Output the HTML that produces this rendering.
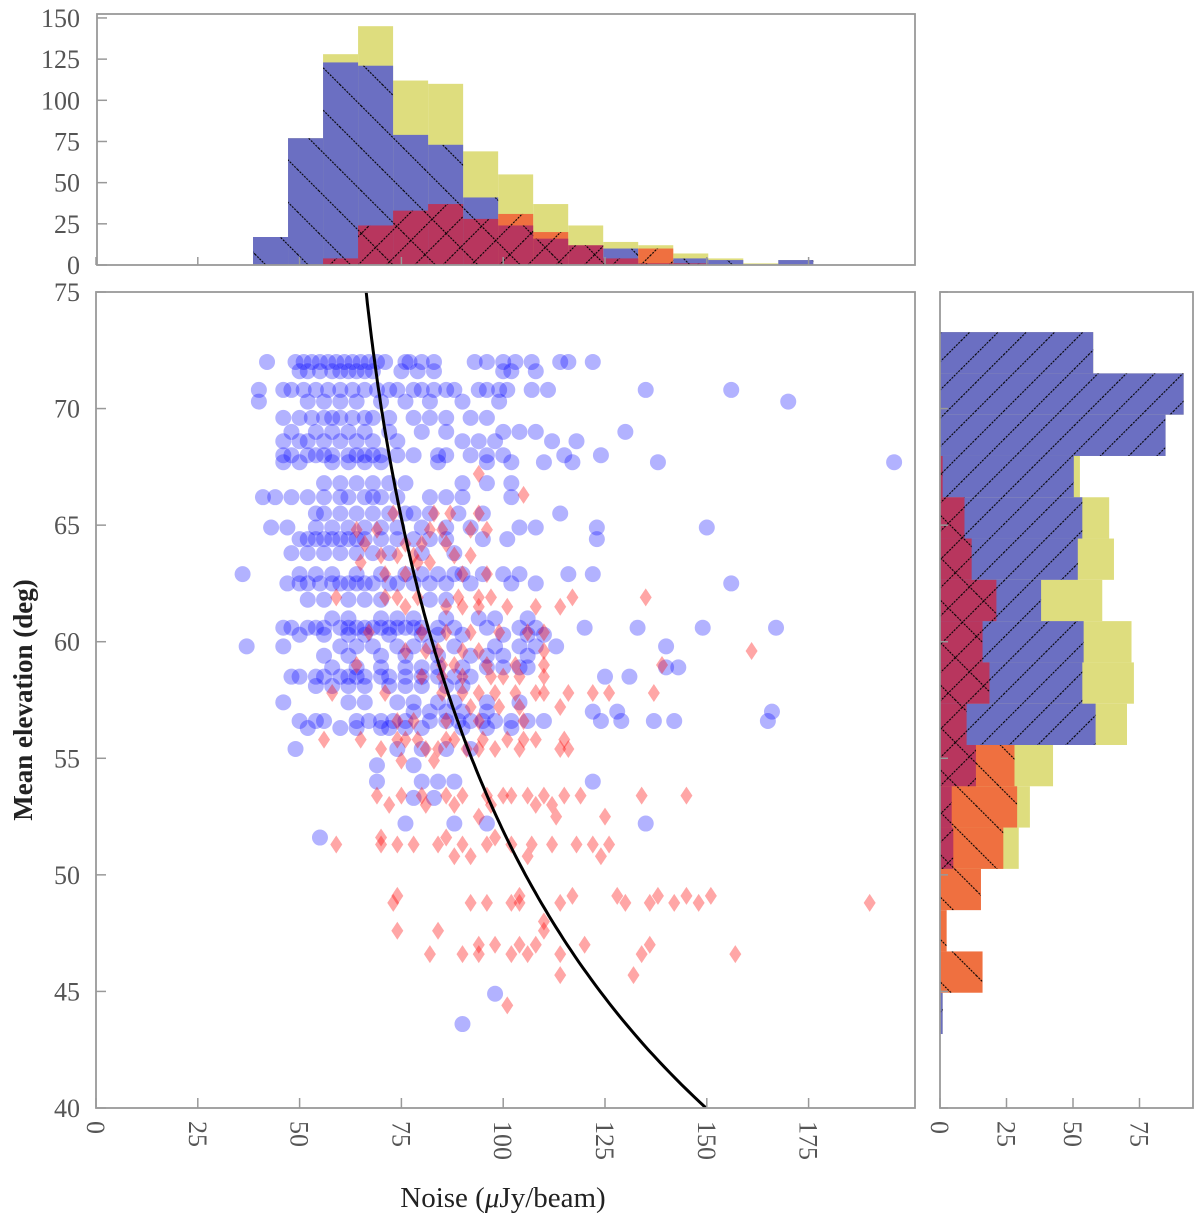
<!DOCTYPE html>
<html><head><meta charset="utf-8"><style>
html,body{margin:0;padding:0;background:#fff;}
svg{display:block;font-family:"Liberation Serif",serif;}
</style></head><body>
<svg id="chart" width="1200" height="1217" viewBox="0 0 1200 1217" xmlns="http://www.w3.org/2000/svg">
<defs>
<pattern id="hatchBack" patternUnits="userSpaceOnUse" width="30" height="30" patternTransform="rotate(-45)"><line x1="0" y1="0" x2="0" y2="30" stroke="#000" stroke-width="2.2" stroke-dasharray="2,1.2"/></pattern>
<pattern id="hatchFwd" patternUnits="userSpaceOnUse" width="20" height="20" patternTransform="rotate(45)"><line x1="0" y1="0" x2="0" y2="20" stroke="#000" stroke-width="2.2" stroke-dasharray="2,1.2"/></pattern>
<clipPath id="mainClip"><rect x="96" y="292" width="819" height="816"/></clipPath>
</defs>
<g id="topHist"></g>
<g id="rightHist"></g>
<g id="mainPlot"></g>
<g id="axes"></g>
<text x="503" y="1207" text-anchor="middle" font-size="29" fill="#222">Noise (<tspan font-style="italic">μ</tspan>Jy/beam)</text>
<text transform="translate(32,700) rotate(-90)" text-anchor="middle" font-size="27" font-weight="bold" fill="#222">Mean elevation (deg)</text>
</svg>
<script>
// ---------------- data ----------------
const topBinStart = 38.56;
const topBinWidth = 8.6;
const topYellow = [17,77,128,145,112,110,69,55,37,24,14,12,7,4,1,3];
const topBlue = [17,77,123,121,79,73,41,20,0,0,10,0,4,3,0,3];
const topOrange = [0,0,0,0,0,0,0,31,20,0,0,10,0,0,0,0];
const topCrimson = [0,0,4,24,33,37,28,24,16,12,4,1,1,0,0,0];
const topTicks = [0,25,50,75,100,125,150];

const rightBinStart = 73.28;
const rightBinWidth = 1.771;
const rightYellow = [57.6,91.6,84.8,52.6,63.6,65.4,61,72,72.9,70.3,42.5,33.8,29.6,0,0,0,1];
const rightBlue = [57.6,91.6,84.8,50.3,53.5,51.8,38,54,53.5,58.5,0,0,0,0,0,0,1];
const rightOrange = [0,0,0,0,0,0,0,0,0,0,28,29,23.8,15.4,2.5,16,0];
const rightCrimson = [0,0,0,1,9.2,11.9,21.2,16,18.6,10,13.5,4.4,5,0,0,0,0];
const rightTicks = [0,25,50,75];

const xTicks = [0,25,50,75,100,125,150,175];
const yTicks = [40,45,50,55,60,65,70,75];

const blueRows = [
[72.0,[42,49,51,53,55,57,59,61,63,65,67,69,71,76,77,80,83,93,96,100,103,107,114,116,122]],
[71.6,[50,52,55,58,60,62,64,66,68,75,79,83,100,102,108]],
[70.8,[40,46,48,51,54,57,60,63,66,69,72,74,78,80,83,86,88,94,96,99,101,107,111,135,156]],
[70.3,[40,52,56,60,64,70,76,82,90,99,170]],
[69.6,[46,50,53,56,58,60,63,66,68,72,78,82,86,92,96]],
[69.0,[48,54,58,62,66,72,80,86,100,104,108,130]],
[68.6,[46,50,52,56,60,64,68,74,90,94,98,112,118]],
[68.0,[46,48,52,54,56,58,62,64,66,68,70,74,78,84,86,92,96,100,115,124]],
[67.7,[46,50,58,62,66,70,84,96,102,110,117,138,196]],
[66.8,[56,60,64,68,72,76,90,96,102]],
[66.2,[41,44,48,52,56,60,62,66,68,70,74,82,86,90,102]],
[65.5,[54,56,60,64,68,72,76,78,82,89,95,114]],
[64.9,[43,47,54,58,62,66,70,74,80,86,92,104,108,123,150]],
[64.4,[50,52,54,56,58,60,62,64,66,70,74,78,82,86,95,101,123]],
[63.8,[48,52,56,60,64,68,72,80,88]],
[62.9,[36,50,54,58,64,70,76,80,84,88,90,95,100,104,116,122]],
[62.5,[47,50,52,55,58,60,62,64,66,68,72,74,78,82,86,92,102,108,156]],
[61.8,[52,56,62,66,70,82,86]],
[61.0,[58,62,70,74,78,86,94,98,106]],
[60.6,[46,48,52,54,56,60,62,64,66,68,70,72,74,76,78,80,84,88,96,104,108,120,133,149,167]],
[60.3,[50,56,62,66,72,80,84,90,100,106,110]],
[59.8,[37,46,60,64,68,74,78,82,88,98,104,108,113,140]],
[59.4,[56,62,70,76,84,92,96,100,106]],
[58.9,[58,64,70,76,80,84,90,96,100,104,106,140,143]],
[58.5,[48,50,54,56,60,62,64,66,70,72,76,80,84,88,92,125,131]],
[58.1,[54,58,62,66,72,76,80,86,90]],
[57.4,[46,62,66,74,78,84,88,96,104]],
[57.0,[78,82,86,90,96,122,128,166]],
[56.6,[50,54,56,64,67,70,73,76,82,86,89,92,95,98,102,106,110,124,129,137,142,165]],
[56.3,[52,60,64,70,72,76,80,90,96,102]],
[55.4,[49,74,80,86,92]],
[54.7,[69,78]],
[54.0,[69,80,84,88,122]],
[53.3,[78,83]],
[52.2,[76,88,96,135]],
[51.6,[55]],
[44.9,[98]],
[43.6,[90]]
];

const redRows = [
[67.2,[94]],
[66.3,[105]],
[65.5,[73,83,87,94]],
[64.8,[64,69,82,85,92,96]],
[64.2,[66,76,80,86]],
[63.7,[70,74,78,88,92]],
[63.4,[65,79,82]],
[62.9,[71,76,90,96]],
[61.9,[59,71,74,79,89,94,97,117,135]],
[61.5,[76,86,90,94,101,108,114]],
[60.4,[67,80,86,92,99,106,110]],
[59.6,[76,81,84,90,94,110,161]],
[59.0,[64,85,88,96,103,110,139]],
[58.5,[80,85,90,97,100,104,110]],
[57.8,[58,71,85,90,94,98,103,108,110,116,122,126,137]],
[57.2,[92,99,104,114]],
[56.6,[74,78,86,94,105]],
[55.8,[56,65,74,76,79,86,88,95,101,105,108,115]],
[55.4,[70,81,84,91,94,98,104,114,116]],
[54.9,[75,83]],
[53.4,[69,75,80,86,90,96,100,102,106,110,115,119,134,145]],
[53.0,[72,81,88,97,108,112]],
[52.5,[94,113,125]],
[51.6,[70,86,98]],
[51.3,[59,70,74,78,84,90,96,102,107,112,118,122,126]],
[50.8,[88,92,106,124]],
[49.1,[74,104,117,128,138,145,151]],
[48.8,[73,92,96,102,104,114,130,136,142,148,190]],
[48.0,[110]],
[47.6,[74,84,110]],
[47.0,[94,98,104,108,120,136]],
[46.6,[82,90,94,102,106,114,134,157]],
[45.7,[114,132]],
[44.4,[101]]
];
const curveK = 61.9;

// ---------------- scales ----------------
const NS="http://www.w3.org/2000/svg";
const X = v => 96 + v*4.072;
const Y = e => 292 + (75-e)*23.314;
const TY = c => 265 - c*1.647;
const RX = c => 940 + c*2.66;
function mk(tag, attrs, parent){const el=document.createElementNS(NS,tag);for(const k in attrs)el.setAttribute(k,attrs[k]);parent.appendChild(el);return el;}

const COL={yellow:"#dedd7e",blue:"#6b6fc2",orange:"#ef7040",crimson:"#b8365e"};

// ---------------- top histogram ----------------
const topG=document.getElementById('topHist');
function topSeries(vals,color,hatches,name){
  vals.forEach((v,i)=>{ if(v<=0) return;
    const x0=X(topBinStart+i*topBinWidth), x1=X(topBinStart+(i+1)*topBinWidth);
    const r=mk('rect',{x:x0,y:TY(v),width:x1-x0,height:TY(0)-TY(v),fill:color},topG);
    
    
    hatches.forEach(h=>{const hr=mk('rect',{x:x0,y:TY(v),width:x1-x0,height:TY(0)-TY(v),fill:'url(#'+h+')'},topG);
      
      });
  });
}
topSeries(topYellow,COL.yellow,[],'top-yellow');
topSeries(topBlue,COL.blue,['hatchBack'],'top-blue');
topSeries(topOrange,COL.orange,['hatchFwd'],'top-orange');
topSeries(topCrimson,COL.crimson,['hatchFwd','hatchBack'],'top-crimson');

// ---------------- right histogram ----------------
const rG=document.getElementById('rightHist');
function rightSeries(vals,color,hatches,name){
  vals.forEach((v,i)=>{ if(v<=0) return;
    const y0=Y(rightBinStart-i*rightBinWidth), y1=Y(rightBinStart-(i+1)*rightBinWidth);
    const r=mk('rect',{x:RX(0),y:y0,width:RX(v)-RX(0),height:y1-y0,fill:color},rG);
    
    
    hatches.forEach(h=>{const hr=mk('rect',{x:RX(0),y:y0,width:RX(v)-RX(0),height:y1-y0,fill:'url(#'+h+')'},rG);
      
      });
  });
}
rightSeries(rightYellow,COL.yellow,[],'right-yellow');
rightSeries(rightBlue,COL.blue,['hatchFwd'],'right-blue');
rightSeries(rightOrange,COL.orange,['hatchBack'],'right-orange');
rightSeries(rightCrimson,COL.crimson,['hatchFwd','hatchBack'],'right-crimson');

// ---------------- scatter ----------------
const mG=document.getElementById('mainPlot');
mG.setAttribute('clip-path','url(#mainClip)');
blueRows.forEach(([e,xs])=>xs.forEach(n=>{
  const c=mk('circle',{cx:X(n),cy:Y(e),r:8,fill:'rgba(0,0,255,0.3)'},mG);
  
  
}));
redRows.forEach(([e,xs])=>xs.forEach(n=>{
  const cx=X(n), cy=Y(e);
  const d=mk('polygon',{points:`${cx},${cy-9} ${cx+6},${cy} ${cx},${cy+9} ${cx-6},${cy}`,fill:'rgba(255,0,0,0.35)'},mG);
  
  
}));
let pts=[];
for(let e=75;e>=39.99;e-=0.25){const s=Math.sin(e*Math.PI/180);pts.push(X(curveK/(s*s)).toFixed(1)+','+Y(e).toFixed(1));}
const cl=mk('polyline',{points:pts.join(' '),fill:'none',stroke:'#000','stroke-width':3},mG);



// ---------------- axes ----------------
const aG=document.getElementById('axes');
const frame=(x,y,w,h,name)=>{const r=mk('rect',{x,y,width:w,height:h,fill:'none',stroke:'#999','stroke-width':1.8},aG);
  
  };
frame(97,14,818,251,'top-hist-frame');
frame(96,292,819,816,'main-frame');
frame(940,292,253,816,'right-hist-frame');
function label(x,y,txt,anchor,rot,name){
  const t=mk('text',{x,y,'text-anchor':anchor,'font-size':26,fill:'#555'},aG);
  if(rot) t.setAttribute('transform',`rotate(90 ${x} ${y})`);
  t.textContent=txt;
  
  
}
topTicks.forEach(v=>{mk('line',{x1:97,y1:TY(v),x2:107,y2:TY(v),stroke:'#999','stroke-width':1.5},aG);
  label(80,TY(v)+9,String(v),'end',false,'top-y-tick-label');});
yTicks.forEach(v=>{mk('line',{x1:96,y1:Y(v),x2:106,y2:Y(v),stroke:'#999','stroke-width':1.5},aG);
  mk('line',{x1:940,y1:Y(v),x2:948,y2:Y(v),stroke:'#999','stroke-width':1.5},aG);
  label(80,Y(v)+9,String(v),'end',false,'y-tick-label');});
xTicks.forEach(v=>{mk('line',{x1:X(v),y1:1108,x2:X(v),y2:1098,stroke:'#999','stroke-width':1.5},aG);
  mk('line',{x1:X(v),y1:265,x2:X(v),y2:257,stroke:'#999','stroke-width':1.5},aG);
  label(X(v)-9,1121,String(v),'start',true,'x-tick-label');});
rightTicks.forEach(v=>{mk('line',{x1:RX(v),y1:1108,x2:RX(v),y2:1098,stroke:'#999','stroke-width':1.5},aG);
  label(RX(v)-9,1121,String(v),'start',true,'right-x-tick-label');});
</script>
</body></html>
